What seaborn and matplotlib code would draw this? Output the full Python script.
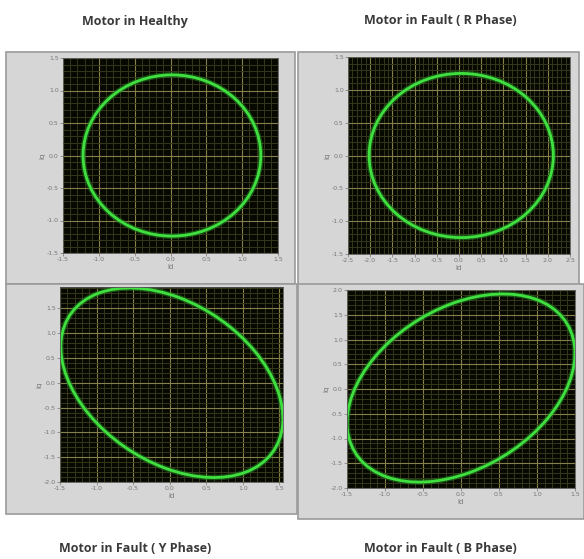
import numpy as np
import matplotlib
matplotlib.use("Agg")
import matplotlib.pyplot as plt
import seaborn as sns
from matplotlib.patches import Ellipse, Rectangle
from matplotlib.ticker import MultipleLocator, FormatStrFormatter

sns.set_theme(style="dark")
plt.rcParams['font.family'] = ['DejaVu Sans']

# panel titles
titles = ["Motor in Healthy", "Motor in Fault ( R Phase)",
          "Motor in Fault ( Y Phase)", "Motor in Fault ( B Phase)"]

# ellipse: centre, full width, full height, tilt (deg)
centre_x = [0.02, 0.05, 0.03, 0.0]
centre_y = [0.0, 0.0, 0.0, 0.02]
ell_width = [2.48, 4.15, 4.13, 4.09]
ell_height = [2.48, 2.50, 2.60, 2.59]
ell_angle = [0.0, 0.0, -60.7, 61.5]

# axis ranges
x_lims = [(-1.5, 1.5), (-2.5, 2.5), (-1.5, 1.55), (-1.5, 1.5)]
y_lims = [(-1.5, 1.5), (-1.5, 1.5), (-2.0, 1.93), (-2.0, 2.0)]

W, H = 584, 559
fig = plt.figure(figsize=(W / 100, H / 100), dpi=100)
fig.patch.set_facecolor("white")

def fx(px):
    return px / W

def fy(py):
    return 1 - py / H

# grey LabVIEW frames (left, top, right, bottom in pixels)
frames = [(6, 52, 295, 284), (298, 52, 579, 287),
          (6, 284, 297, 514), (298, 284, 584, 519)]
# black plot areas
areas = [(63, 58, 278, 253), (348, 57, 570, 254),
         (60, 287, 283, 482), (347, 290, 575, 488)]

for (l, t, r, b) in frames:
    fig.patches.append(Rectangle((fx(l), fy(b)), fx(r - l), (b - t) / H,
                                 transform=fig.transFigure, facecolor="#d6d6d6",
                                 edgecolor="#9a9a9a", linewidth=1.2, zorder=-5))

for i in range(4):
    l, t, r, b = areas[i]
    ax = fig.add_axes([fx(l), fy(b), fx(r - l), (b - t) / H], zorder=2)
    ax.set_facecolor("#070800")
    ax.set_xlim(*x_lims[i])
    ax.set_ylim(*y_lims[i])
    ax.xaxis.set_major_locator(MultipleLocator(0.5))
    ax.yaxis.set_major_locator(MultipleLocator(0.5))
    ax.xaxis.set_minor_locator(MultipleLocator(0.1))
    ax.yaxis.set_minor_locator(MultipleLocator(0.1))
    ax.grid(which="major", color="#85804a", linewidth=0.8)
    ax.grid(which="minor", color="#35371a", linewidth=0.7)
    ax.set_axisbelow(True)
    ax.tick_params(which="major", direction="out", length=2, width=0.5,
                   colors="#777777", labelsize=4.5, pad=1, bottom=True, left=True)
    ax.tick_params(which="minor", length=0)
    ax.xaxis.set_major_formatter(FormatStrFormatter("%.1f"))
    ax.yaxis.set_major_formatter(FormatStrFormatter("%.1f"))
    for s in ax.spines.values():
        s.set_color("#555555")
        s.set_linewidth(0.6)
    ax.set_xlabel("Id", fontsize=5, color="#777777", labelpad=1)
    ax.set_ylabel("Iq", fontsize=5, color="#777777", labelpad=1)
    # soft glow then the trace itself
    ax.add_patch(Ellipse((centre_x[i], centre_y[i]), ell_width[i], ell_height[i],
                         angle=ell_angle[i], fill=False, edgecolor="#1f7a1f",
                         linewidth=4, alpha=0.6))
    ax.add_patch(Ellipse((centre_x[i], centre_y[i]), ell_width[i], ell_height[i],
                         angle=ell_angle[i], fill=False, edgecolor="#3fe03f",
                         linewidth=2))

title_pos = [(135, 21), (440, 21), (135, 548), (440, 548)]
for txt, (px, py) in zip(titles, title_pos):
    fig.text(fx(px), fy(py), txt, ha="center", va="center", fontsize=9,
             fontweight="bold", color="#3a3a3a", family=["Open Sans", "DejaVu Sans"])

fig.savefig("out.png", dpi=100)
